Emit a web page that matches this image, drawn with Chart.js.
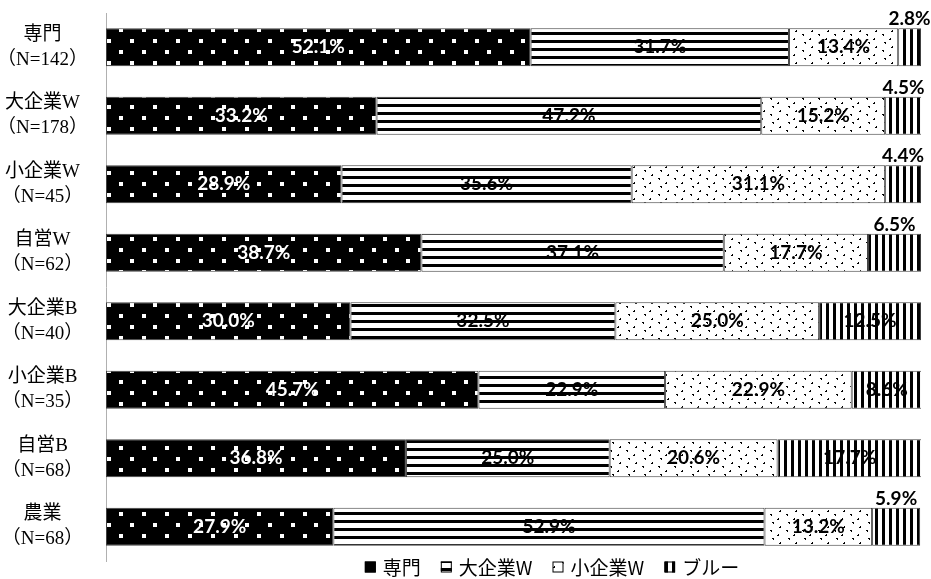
<!DOCTYPE html>
<html>
<head>
<meta charset="utf-8">
<script src="https://cdn.jsdelivr.net/npm/chart.js@4.4.1/dist/chart.umd.min.js"></script>
<style>
  body { margin: 0; background: #fff; }
  #wrap { width: 931px; height: 579px; }
</style>
</head>
<body>
<div id="wrap"><canvas id="chart" width="931" height="579"></canvas></div>
<script>
// グループ（縦軸）
const groupNames = ['専門', '大企業W', '小企業W', '自営W', '大企業B', '小企業B', '自営B', '農業'];
const groupN = [142, 178, 45, 62, 40, 35, 68, 68];

// 系列
const seriesNames = ['専門', '大企業W', '小企業W', 'ブルー'];
const senmonValues = [52.1, 33.2, 28.9, 38.7, 30.0, 45.7, 36.8, 27.9];
const daiKigyoWValues = [31.7, 47.2, 35.6, 37.1, 32.5, 22.9, 25.0, 52.9];
const shoKigyoWValues = [13.4, 15.2, 31.1, 17.7, 25.0, 22.9, 20.6, 13.2];
const blueValues = [2.8, 4.5, 4.4, 6.5, 12.5, 8.6, 17.7, 5.9];

const canvas = document.getElementById('chart');
const ctx = canvas.getContext('2d');

function makePattern(w, h, draw) {
    const c = document.createElement('canvas');
    c.width = w;
    c.height = h;
    const g = c.getContext('2d');
    draw(g);
    return ctx.createPattern(c, 'repeat');
}

// 黒地に白い四角
const dotPattern = makePattern(23, 22, g => {
    g.fillStyle = '#000';
    g.fillRect(0, 0, 23, 22);
    g.fillStyle = '#fff';
    g.fillRect(4, 6, 4, 4);
    g.fillRect(15, 17, 4, 4);
});
// 横線
const hLinePattern = makePattern(8, 8, g => {
    g.fillStyle = '#fff';
    g.fillRect(0, 0, 8, 8);
    g.fillStyle = '#000';
    g.fillRect(0, 0, 8, 3);
});
// 細かい点
const speckPattern = makePattern(16, 16, g => {
    g.fillStyle = '#fff';
    g.fillRect(0, 0, 16, 16);
    g.fillStyle = '#000';
    g.fillRect(2, 2, 2, 1);
    g.fillRect(3, 3, 1, 1);
    g.fillRect(10, 6, 1, 1);
    g.fillRect(9, 7, 2, 1);
    g.fillRect(4, 10, 2, 1);
    g.fillRect(5, 11, 1, 1);
    g.fillRect(12, 14, 1, 1);
    g.fillRect(11, 15, 2, 1);
});
// 縦線
const vLinePattern = makePattern(7, 7, g => {
    g.fillStyle = '#fff';
    g.fillRect(0, 0, 7, 7);
    g.fillStyle = '#000';
    g.fillRect(0, 0, 3, 7);
});

const patterns = [dotPattern, hLinePattern, speckPattern, vLinePattern];
const seriesValues = [senmonValues, daiKigyoWValues, shoKigyoWValues, blueValues];

const labels = groupNames.map((name, i) => [name, '（N=' + groupN[i] + '）']);

const datasets = seriesNames.map((name, i) => ({
    label: name,
    data: seriesValues[i],
    backgroundColor: patterns[i],
    borderColor: '#404040',
    borderWidth: 1,
    borderSkipped: false,
    barPercentage: 0.555,
    categoryPercentage: 1.0
}));

// 値ラベル
const valueLabelPlugin = {
    id: 'valueLabels',
    afterDatasetsDraw(chart) {
        const c = chart.ctx;
        c.save();
        c.font = 'bold 19px Lato';
        c.textAlign = 'center';
        c.textBaseline = 'middle';
        chart.data.datasets.forEach((ds, di) => {
            const meta = chart.getDatasetMeta(di);
            meta.data.forEach((bar, i) => {
                const v = ds.data[i];
                const text = v.toFixed(1) + '%';
                const cx = (bar.x + bar.base) / 2;
                if (v < 7) {
                    c.fillStyle = '#000';
                    c.fillText(text, cx, bar.y - 28);
                } else {
                    c.fillStyle = di === 0 ? '#fff' : '#000';
                    c.fillText(text, cx, bar.y);
                }
            });
        });
        c.restore();
    }
};

// 凡例
const legendPlugin = {
    id: 'bottomLegend',
    afterDraw(chart) {
        const c = chart.ctx;
        c.save();
        c.font = '19px "Noto Sans CJK JP"';
        c.textBaseline = 'middle';
        const box = 11, gapBox = 7, gapItem = 20;
        const widths = chart.data.datasets.map(ds => c.measureText(ds.label).width);
        let total = 0;
        widths.forEach(w => { total += box + gapBox + w; });
        total += gapItem * (widths.length - 1);
        let x = 552 - total / 2;
        const y = 567;
        chart.data.datasets.forEach((ds, i) => {
            c.fillStyle = ds.backgroundColor;
            c.fillRect(x, y - box / 2, box, box);
            c.strokeStyle = '#000';
            c.lineWidth = 1;
            c.strokeRect(x + 0.5, y - box / 2 + 0.5, box - 1, box - 1);
            x += box + gapBox;
            c.fillStyle = '#000';
            c.fillText(ds.label, x, y + 1);
            x += widths[i] + gapItem;
        });
        c.restore();
    }
};

new Chart(canvas, {
    type: 'bar',
    data: { labels: labels, datasets: datasets },
    options: {
        indexAxis: 'y',
        responsive: false,
        animation: false,
        layout: { padding: { top: 13, right: 10, bottom: 18, left: 0 } },
        scales: {
            x: {
                stacked: true,
                min: 0,
                max: 100,
                display: false
            },
            y: {
                stacked: true,
                grid: { display: false },
                border: { display: true, color: '#b0b0b0', width: 1 },
                ticks: {
                    crossAlign: 'center',
                    padding: 10,
                    color: '#000',
                    font: { family: '"Liberation Serif", "Noto Sans CJK JP"', size: 19, lineHeight: 1.32 }
                },
                afterFit(scale) {
                    scale.width = 106;
                    scale.paddingTop = 0;
                    scale.paddingBottom = 0;
                }
            }
        },
        plugins: {
            legend: { display: false },
            tooltip: { enabled: false }
        }
    },
    plugins: [valueLabelPlugin, legendPlugin]
});
</script>
</body>
</html>
